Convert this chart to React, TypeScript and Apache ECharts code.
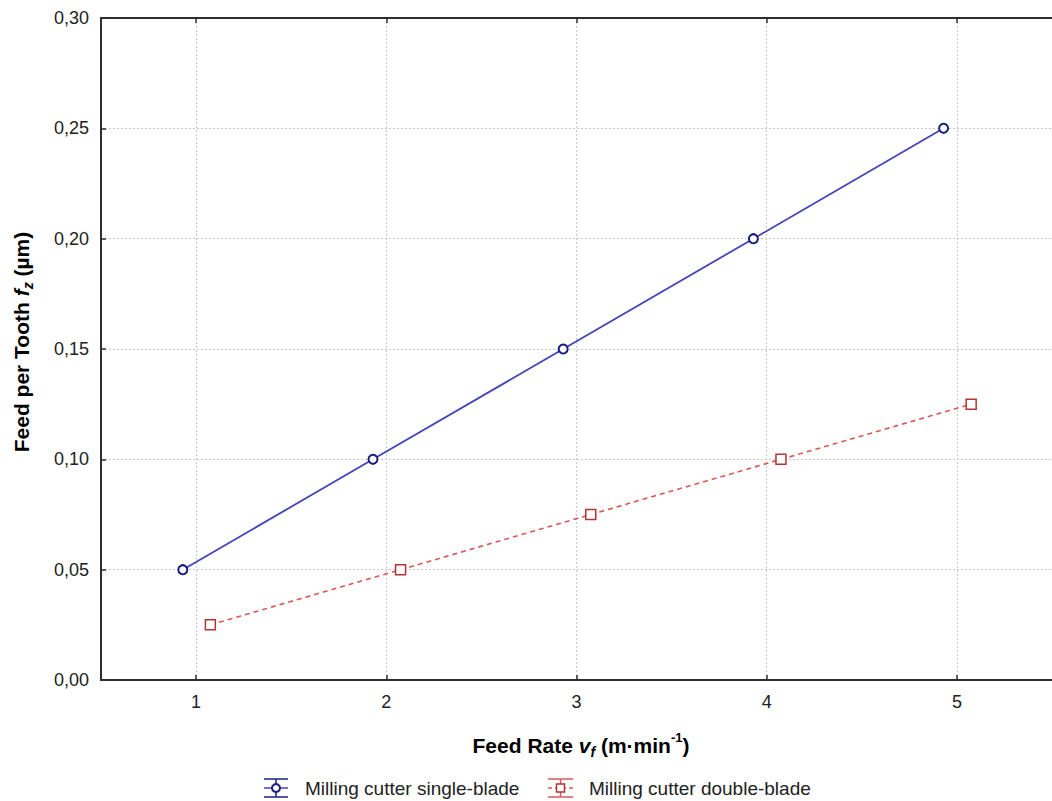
import React, { useEffect, useRef } from "react";
import * as echarts from "echarts";

const xTicks = [1, 2, 3, 4, 5];
const xSingle = [0.93, 1.93, 2.93, 3.93, 4.93];
const ySingle = [0.05, 0.1, 0.15, 0.2, 0.25];
const xDouble = [1.075, 2.075, 3.075, 4.075, 5.075];
const yDouble = [0.025, 0.05, 0.075, 0.1, 0.125];
const seriesNames = ["Milling cutter single-blade", "Milling cutter double-blade"];

const FONT = "'Liberation Sans', Arial, sans-serif";
const BLUE_LINE = "#4444b8";
const BLUE_MARK = "#1c1c84";
const RED_LINE = "#d85858";
const RED_MARK = "#b23434";
const AXIS = "#2e2e2e";

export default function App() {
  const ref = useRef<HTMLDivElement>(null);
  useEffect(() => {
    document.body.style.margin = "0";
    const chart = echarts.init(ref.current!, null, { renderer: "svg" });
    const titleRich = {
      b: { fontFamily: FONT, fontSize: 21, fontWeight: "bold", color: "#222", lineHeight: 28, verticalAlign: "middle" },
      i: { fontFamily: FONT, fontSize: 21, fontWeight: "bold", fontStyle: "italic", color: "#222", lineHeight: 28, verticalAlign: "middle" },
      sub: { fontFamily: FONT, fontSize: 14, fontWeight: "bold", fontStyle: "italic", color: "#222", lineHeight: 17, verticalAlign: "bottom" },
      sup: { fontFamily: FONT, fontSize: 13, fontWeight: "bold", color: "#222", lineHeight: 15, verticalAlign: "top" },
    };
    const gridLine = { show: true, lineStyle: { color: "#c8c8c8", width: 1, type: [2, 2] } };
    const option: any = {
      animation: false,
      backgroundColor: "#ffffff",
      grid: { left: 101, top: 18, width: 960, height: 662, containLabel: false },
      xAxis: [
        {
          type: "value",
          min: 0.5,
          max: 5.5,
          position: "bottom",
          axisLine: { show: true, onZero: false, lineStyle: { color: AXIS, width: 2 } },
          axisTick: { show: true, inside: true, length: 5, customValues: xTicks, lineStyle: { color: AXIS, width: 1.5 } },
          axisLabel: { customValues: xTicks, fontFamily: FONT, fontSize: 18, color: "#222", margin: 13 },
          splitLine: gridLine,
        },
        {
          type: "value",
          min: 0.5,
          max: 5.5,
          position: "top",
          axisLine: { show: true, onZero: false, lineStyle: { color: AXIS, width: 2 } },
          axisTick: { show: true, inside: true, length: 5, customValues: xTicks, lineStyle: { color: AXIS, width: 1.5 } },
          axisLabel: { show: false },
          splitLine: { show: false },
        },
      ],
      yAxis: {
        type: "value",
        min: 0,
        max: 0.3,
        interval: 0.05,
        axisLine: { show: true, onZero: false, lineStyle: { color: AXIS, width: 2 } },
        axisTick: { show: true, inside: true, length: 5, lineStyle: { color: AXIS, width: 1.5 } },
        axisLabel: {
          fontFamily: FONT,
          fontSize: 18,
          color: "#222",
          margin: 12,
          formatter: (v: number) => v.toFixed(2).replace(".", ","),
        },
        splitLine: gridLine,
      },
      series: [
        {
          name: seriesNames[0],
          type: "line",
          data: xSingle.map((x, i) => [x, ySingle[i]]),
          symbol: "circle",
          symbolSize: 9,
          lineStyle: { color: BLUE_LINE, width: 1.8 },
          itemStyle: { color: "#ffffff", borderColor: BLUE_MARK, borderWidth: 2 },
          z: 3,
        },
        {
          name: seriesNames[1],
          type: "line",
          data: xDouble.map((x, i) => [x, yDouble[i]]),
          symbol: "rect",
          symbolSize: 10,
          lineStyle: { color: RED_LINE, width: 1.6, type: [5, 4] },
          itemStyle: { color: "#ffffff", borderColor: RED_MARK, borderWidth: 1.5 },
          z: 2,
        },
      ],
      graphic: [
        {
          type: "text",
          x: 581,
          y: 745,
          style: {
            text: "{b|Feed Rate }{i|v}{sub|f}{b| (m·min}{sup|-1}{b|)}",
            rich: titleRich,
            align: "center",
            verticalAlign: "middle",
          },
        },
        {
          type: "text",
          x: 21,
          y: 342,
          rotation: Math.PI / 2,
          style: {
            text: "{b|Feed per Tooth }{i|f}{sub|z}{b| (µm)}",
            rich: titleRich,
            align: "center",
            verticalAlign: "middle",
          },
        },
        // legend: single-blade
        { type: "line", shape: { x1: 264, y1: 779, x2: 288, y2: 779 }, style: { stroke: BLUE_MARK, lineWidth: 1.5 } },
        { type: "line", shape: { x1: 264, y1: 797, x2: 288, y2: 797 }, style: { stroke: BLUE_MARK, lineWidth: 1.5 } },
        { type: "line", shape: { x1: 276, y1: 779, x2: 276, y2: 797 }, style: { stroke: BLUE_MARK, lineWidth: 1.5 } },
        { type: "line", shape: { x1: 264, y1: 788, x2: 288, y2: 788 }, style: { stroke: BLUE_LINE, lineWidth: 1.5 } },
        { type: "circle", shape: { cx: 276, cy: 788, r: 4 }, style: { fill: "#fff", stroke: BLUE_MARK, lineWidth: 2 } },
        {
          type: "text",
          x: 305,
          y: 788,
          style: { text: seriesNames[0], fontFamily: FONT, fontSize: 19, fill: "#222", verticalAlign: "middle" },
        },
        // legend: double-blade
        { type: "line", shape: { x1: 548, y1: 779, x2: 573, y2: 779 }, style: { stroke: RED_LINE, lineWidth: 1.5 } },
        { type: "line", shape: { x1: 548, y1: 797, x2: 573, y2: 797 }, style: { stroke: RED_LINE, lineWidth: 1.5 } },
        { type: "line", shape: { x1: 560.5, y1: 779, x2: 560.5, y2: 797 }, style: { stroke: RED_LINE, lineWidth: 1.5 } },
        { type: "line", shape: { x1: 548, y1: 788, x2: 573, y2: 788 }, style: { stroke: RED_LINE, lineWidth: 1.5, lineDash: [4, 3] } },
        { type: "rect", shape: { x: 556.5, y: 784, width: 8, height: 8 }, style: { fill: "#fff", stroke: RED_MARK, lineWidth: 1.5 } },
        {
          type: "text",
          x: 589,
          y: 788,
          style: { text: seriesNames[1], fontFamily: FONT, fontSize: 19, fill: "#222", verticalAlign: "middle" },
        },
      ],
    };
    chart.setOption(option);
    return () => chart.dispose();
  }, []);
  return <div ref={ref} style={{ width: 1052, height: 801 }} />;
}
